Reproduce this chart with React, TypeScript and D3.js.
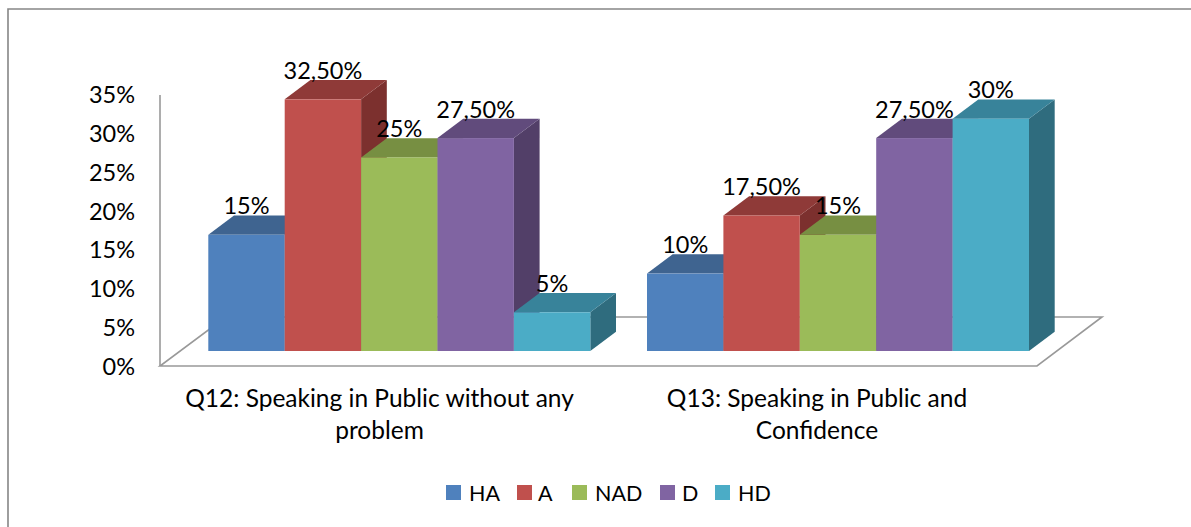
import React from "react";
import * as d3 from "d3";

const categories = ["Q12: Speaking in Public without any|problem", "Q13: Speaking in Public and|Confidence"];
const seriesNames = ["HA", "A", "NAD", "D", "HD"];
const q12Values = [15, 32.5, 25, 27.5, 5];
const q13Values = [10, 17.5, 15, 27.5, 30];
const q12Labels = ["15%", "32,50%", "25%", "27,50%", "5%"];
const q13Labels = ["10%", "17,50%", "15%", "27,50%", "30%"];
const yTicks = [0, 5, 10, 15, 20, 25, 30, 35];
const colors = ["#4F81BD", "#C0504D", "#9BBB59", "#8064A2", "#4BACC6"];
const topColors = ["#3F6490", "#8F3A38", "#778F42", "#614B7C", "#38839A"];
const sideColors = ["#355479", "#7C302E", "#647837", "#523F68", "#2F6C7E"];
const legendSwatchX = [446, 517, 572, 660, 715];
const legendTextX = [469, 538, 595, 682, 738];

const W = 1191, H = 527;
const font = "Lato, 'Open Sans', sans-serif";
const dx = 25.7, dy = -19.3;

const y = d3.scaleLinear().domain([0, 35]).range([351, 80]);
const yAxis = d3.scaleLinear().domain([0, 35]).range([366, 94]);
const barW = 76.4;

const groups = [
  { values: q12Values, labels: q12Labels, cat: categories[0], x0: 208.3, cx: 379.5 },
  { values: q13Values, labels: q13Labels, cat: categories[1], x0: 647, cx: 817 },
];

export default function App() {
  return (
    <svg width={W} height={H} style={{ position: "absolute", left: 0, top: 0, background: "#fff" }}>
      <path d="M8,527L8,9L1191,9" fill="none" stroke="#868686" strokeWidth={1.6} />
      <path d="M160,366L1037,366L1102,317L225.7,317Z" fill="none" stroke="#999" strokeWidth={1.6} />
      <path d="M160,95L160,366" fill="none" stroke="#999" strokeWidth={1.6} />

      {yTicks.map((t) => (
        <text key={t} x={135} y={yAxis(t) + 9} textAnchor="end"
          fontFamily={font} fontSize={23.5} fill="#000">{t}%</text>
      ))}

      {groups.map((g, gi) => (
        <g key={gi}>
          {g.values.map((v, i) => {
            const x = g.x0 + i * barW;
            const t = y(v), b = y(0);
            return (
              <g key={i}>
                <path d={`M${x + barW},${t}l${dx},${dy}L${x + barW + dx},${b + dy}L${x + barW},${b}Z`} fill={sideColors[i]} />
                <path d={`M${x},${t}l${dx},${dy}h${barW}l${-dx},${-dy}Z`} fill={topColors[i]} />
                <rect x={x} y={t} width={barW} height={b - t} fill={colors[i]} />
              </g>
            );
          })}
        </g>
      ))}
      {groups.map((g, gi) =>
        g.values.map((v, i) => (
          <text key={`${gi}-${i}`} x={g.x0 + i * barW + barW / 2} y={y(v) - 20.5} textAnchor="middle"
            fontFamily={font} fontSize={23.5} fill="#000">{g.labels[i]}</text>
        ))
      )}
      {groups.map((g, gi) =>
        g.cat.split("|").map((line, li) => (
          <text key={`${gi}l${li}`} x={g.cx} y={407 + li * 32} textAnchor="middle"
            fontFamily={font} fontSize={24.5} fill="#000">{line}</text>
        ))
      )}
      {seriesNames.map((n, i) => (
        <g key={n}>
          <rect x={legendSwatchX[i]} y={485} width={15} height={15} fill={colors[i]} />
          <text x={legendTextX[i]} y={501} fontFamily={font} fontSize={21.5} fill="#000">{n}</text>
        </g>
      ))}
    </svg>
  );
}
